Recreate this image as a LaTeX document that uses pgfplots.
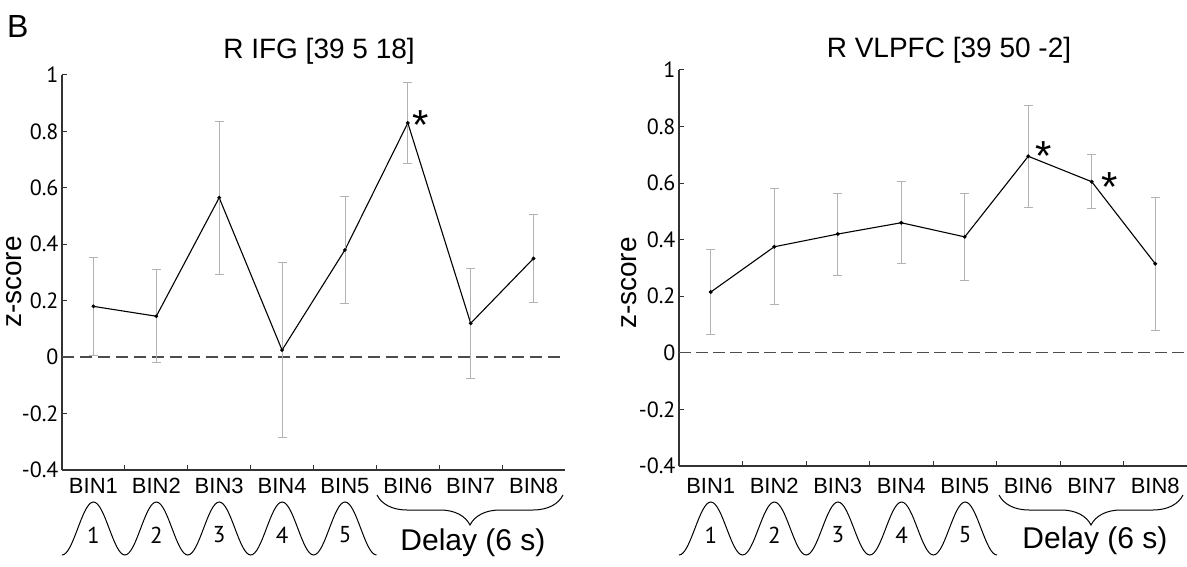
\documentclass[border=0pt]{standalone}
\usepackage{fontspec}
\setmainfont{Liberation Sans}
\newfontfamily\tickfont{PT Sans}
\usepackage{pgfplots}
\usepackage{pgfplotstable}
\pgfplotsset{compat=1.18}
\usetikzlibrary{decorations.pathreplacing}

% mean z-score and error (half-length of bar) per bin
\pgfplotstableread{
x y err
1 0.180 0.175
2 0.145 0.165
3 0.565 0.270
4 0.025 0.310
5 0.380 0.190
6 0.830 0.145
7 0.120 0.195
8 0.350 0.155
}\ifgdata

\pgfplotstableread{
x y err
1 0.215 0.150
2 0.375 0.205
3 0.420 0.145
4 0.460 0.145
5 0.410 0.155
6 0.695 0.180
7 0.605 0.095
8 0.315 0.235
}\vlpfcdata

\pgfplotsset{
  zpanel/.style={
    scale only axis, anchor=south west, clip=false,
    xmin=0.5, xmax=8.5, ymin=-0.4, ymax=1,
    axis x line*=bottom, axis y line*=left,
    axis line style={-, black!80, line width=1.2pt},
    tick align=inside, major tick length=5pt,
    tick style={black!80, line width=1pt},
    xtick={1.5,2.5,3.5,4.5,5.5,6.5,7.5}, xticklabels={},
    extra x ticks={1,2,3,4,5,6,7,8},
    extra x tick labels={BIN1,BIN2,BIN3,BIN4,BIN5,BIN6,BIN7,BIN8},
    extra x tick style={tick style={draw=none}},
    ytick={-0.4,-0.2,0,0.2,0.4,0.6,0.8,1},
    /pgf/number format/assume math mode=true,
    yticklabel style={font=\tickfont\fontsize{22pt}{22pt}\selectfont},
    xticklabel style={font=\fontsize{22pt}{22pt}\selectfont, anchor=base},
  },
  means/.style={black, line width=1.1pt, mark=*, mark size=1.3pt,
    error bars/.cd, y dir=both, y explicit,
    error bar style={gray!60, line width=0.8pt},
    error mark options={gray!60, rotate=90, mark size=4.5pt, line width=0.8pt}},
}

\begin{document}
\begin{tikzpicture}[x=1pt,y=1pt]
\useasboundingbox (0,0) rectangle (1187,566);

\begin{axis}[zpanel, at={(62pt,96pt)}, width=503pt, height=395pt,
  xticklabel style={yshift=-23pt}]
  \addplot[black!70, line width=1.3pt, dash pattern=on 12pt off 6pt] coordinates {(0.5,0) (8.5,0)};
  \addplot[means] table[x=x, y=y, y error=err] \ifgdata;
\end{axis}

\begin{axis}[zpanel, at={(679pt,100pt)}, width=508pt, height=396pt,
  xticklabel style={yshift=-27pt}]
  \addplot[black!70, line width=0.8pt, dash pattern=on 12pt off 5pt] coordinates {(0.5,0) (8.5,0)};
  \addplot[means] table[x=x, y=y, y error=err] \vlpfcdata;
\end{axis}

% titles and labels
\node[font=\fontsize{32pt}{32pt}\selectfont, anchor=base west, inner sep=0] at (7,528) {B};
\node[font=\fontsize{28pt}{28pt}\selectfont, anchor=base] at (319,507) {R IFG [39 5 18]};
\node[font=\fontsize{28pt}{28pt}\selectfont, anchor=base] at (949,508) {R VLPFC [39 50 -2]};
\node[font=\fontsize{28pt}{28pt}\selectfont, rotate=90, inner sep=1pt] at (14,284) {z-score};
\node[font=\fontsize{28pt}{28pt}\selectfont, rotate=90, inner sep=1pt] at (629,283) {z-score};

% significance stars
\node[font=\fontsize{42pt}{42pt}\selectfont, anchor=base, inner sep=0] at (421,426) {*};
\node[font=\fontsize{42pt}{42pt}\selectfont, anchor=base, inner sep=0] at (1044,395) {*};
\node[font=\fontsize{42pt}{42pt}\selectfont, anchor=base, inner sep=0] at (1110,364) {*};

% stimulus waves
\draw[line width=1pt] (62,11) foreach \i in {1,...,5} {
  cos ++(15.725,26.5) sin ++(15.725,26.5) cos ++(15.725,-26.5) sin ++(15.725,-26.5)};
\draw[line width=1pt] (679,11) foreach \i in {1,...,5} {
  cos ++(15.9,26.5) sin ++(15.9,26.5) cos ++(15.9,-26.5) sin ++(15.9,-26.5)};
\foreach \i in {1,...,5} {
  \node[font=\tickfont\fontsize{23pt}{23pt}\selectfont] at ({62+62.9*\i-31.45},31) {\i};
  \node[font=\tickfont\fontsize{23pt}{23pt}\selectfont] at ({679+63.6*\i-31.8},31) {\i};
}

% delay braces
\draw[line width=1pt, decorate, decoration={brace, mirror, amplitude=30pt}] (377,71) -- (563,71);
\draw[line width=1pt, decorate, decoration={brace, mirror, amplitude=30pt}] (999,71) -- (1183,71);
\node[font=\fontsize{30pt}{30pt}\selectfont, anchor=base] at (473,16) {Delay (6 s)};
\node[font=\fontsize{30pt}{30pt}\selectfont, anchor=base] at (1095,18) {Delay (6 s)};
\end{tikzpicture}
\end{document}
